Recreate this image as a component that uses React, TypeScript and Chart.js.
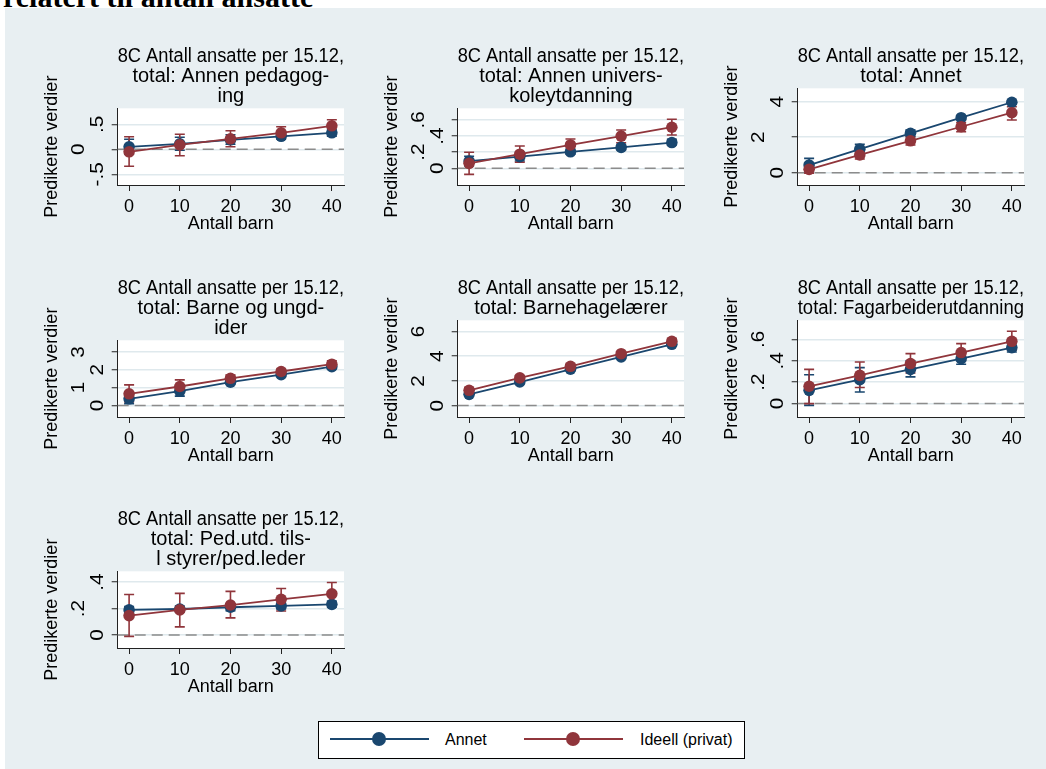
import React, { useEffect, useRef } from 'react';
import { Chart, registerables } from 'chart.js';

Chart.register(...registerables);
Chart.defaults.font.family = '"Liberation Sans", Arial, sans-serif';
Chart.defaults.color = '#000';

// ---------- data ----------
const xValues = [0, 10, 20, 30, 40];
const seriesNames = ['Annet', 'Ideell (privat)'];
const seriesColors = ['#1a476f', '#90353b'];
const xAxisTitle = 'Antall barn';
const yAxisTitle = 'Predikerte verdier';
const pageHeading = 'relatert til antall ansatte';

const titleLine1 = '8C Antall ansatte per 15.12,';
const p1Title = [titleLine1, 'total: Annen pedagog-', 'ing'];
const p2Title = [titleLine1, 'total: Annen univers-', 'koleytdanning'];
const p3Title = [titleLine1, 'total: Annet'];
const p4Title = [titleLine1, 'total: Barne og ungd-', 'ider'];
const p5Title = [titleLine1, 'total: Barnehagelærer'];
const p6Title = [titleLine1, 'total: Fagarbeiderutdanning'];
const p7Title = [titleLine1, 'total: Ped.utd. tils-', 'l styrer/ped.leder'];

// Panel 1: Annen pedagoging
const p1Annet = [0.05, 0.11, 0.19, 0.26, 0.33];
const p1AnnetLo = [-0.1, -0.02, 0.1, 0.2, 0.26];
const p1AnnetHi = [0.2, 0.24, 0.29, 0.32, 0.4];
const p1Ideell = [-0.05, 0.09, 0.21, 0.33, 0.47];
const p1IdeellLo = [-0.34, -0.13, 0.05, 0.22, 0.35];
const p1IdeellHi = [0.25, 0.3, 0.37, 0.45, 0.59];
const p1YTicks = [-0.5, 0, 0.5];
const p1YLabels = ['-.5', '0', '.5'];
const p1YRange = [-0.714, 0.82];

// Panel 2: Annen universkoleytdanning
const p2Annet = [0.09, 0.145, 0.205, 0.26, 0.32];
const p2AnnetLo = [0.03, 0.09, 0.175, 0.23, 0.29];
const p2AnnetHi = [0.15, 0.2, 0.24, 0.29, 0.36];
const p2Ideell = [0.062, 0.175, 0.29, 0.4, 0.51];
const p2IdeellLo = [-0.075, 0.075, 0.206, 0.318, 0.414];
const p2IdeellHi = [0.2, 0.277, 0.364, 0.476, 0.61];
const p2YTicks = [0, 0.2, 0.4, 0.6];
const p2YLabels = ['0', '.2', '.4', '.6'];
const p2YRange = [-0.207, 0.745];

// Panel 3: Annet
const p3Annet = [0.43, 1.33, 2.22, 3.1, 3.97];
const p3AnnetLo = [0.06, 1.09, 2.03, 2.98, 3.86];
const p3AnnetHi = [0.81, 1.6, 2.4, 3.22, 4.08];
const p3Ideell = [0.19, 1.0, 1.8, 2.59, 3.38];
const p3IdeellLo = [-0.03, 0.77, 1.56, 2.31, 2.97];
const p3IdeellHi = [0.38, 1.18, 2.03, 2.82, 3.72];
const p3YTicks = [0, 2, 4];
const p3YLabels = ['0', '2', '4'];
const p3YRange = [-0.69, 4.755];

// Panel 4: Barne og ungdider
const p4Annet = [0.37, 0.8, 1.3, 1.72, 2.17];
const p4AnnetLo = [0.09, 0.52, 1.18, 1.62, 2.06];
const p4AnnetHi = [0.61, 1.06, 1.42, 1.82, 2.28];
const p4Ideell = [0.65, 1.06, 1.52, 1.9, 2.31];
const p4IdeellLo = [0.19, 0.8, 1.3, 1.72, 2.09];
const p4IdeellHi = [1.15, 1.43, 1.7, 2.04, 2.5];
const p4YTicks = [0, 1, 2, 3];
const p4YLabels = ['0', '1', '2', '3'];
const p4YRange = [-0.65, 3.65];

// Panel 5: Barnehagelærer
const p5Annet = [0.91, 1.91, 2.94, 3.94, 4.96];
const p5AnnetLo = [0.75, 1.78, 2.82, 3.83, 4.82];
const p5AnnetHi = [1.07, 2.04, 3.06, 4.05, 5.1];
const p5Ideell = [1.24, 2.24, 3.18, 4.2, 5.2];
const p5IdeellLo = [1.02, 2.05, 3.02, 4.04, 4.98];
const p5IdeellHi = [1.46, 2.43, 3.34, 4.36, 5.42];
const p5YTicks = [0, 2, 4, 6];
const p5YLabels = ['0', '2', '4', '6'];
const p5YRange = [-0.92, 6.9];

// Panel 6: Fagarbeiderutdanning
const p6Annet = [0.124, 0.224, 0.32, 0.42, 0.523];
const p6AnnetLo = [-0.016, 0.108, 0.25, 0.367, 0.482];
const p6AnnetHi = [0.27, 0.336, 0.4, 0.47, 0.56];
const p6Ideell = [0.162, 0.264, 0.374, 0.477, 0.582];
const p6IdeellLo = [0.0, 0.15, 0.286, 0.4, 0.498];
const p6IdeellHi = [0.32, 0.389, 0.467, 0.56, 0.676];
const p6YTicks = [0, 0.2, 0.4, 0.6];
const p6YLabels = ['0', '.2', '.4', '.6'];
const p6YRange = [-0.125, 0.778];

// Panel 7: Ped.utd. tilsl styrer/ped.leder
const p7Annet = [0.19, 0.197, 0.21, 0.22, 0.232];
const p7AnnetLo = [0.165, 0.175, 0.185, 0.198, 0.21];
const p7AnnetHi = [0.215, 0.22, 0.235, 0.242, 0.255];
const p7Ideell = [0.147, 0.19, 0.227, 0.27, 0.312];
const p7IdeellLo = [-0.01, 0.062, 0.13, 0.182, 0.232];
const p7IdeellHi = [0.307, 0.315, 0.33, 0.352, 0.397];
const p7YTicks = [0, 0.2, 0.4];
const p7YLabels = ['0', '.2', '.4'];
const p7YRange = [-0.098, 0.482];

const panels = [
  { title: p1Title, a: p1Annet, aLo: p1AnnetLo, aHi: p1AnnetHi, b: p1Ideell, bLo: p1IdeellLo, bHi: p1IdeellHi, yTicks: p1YTicks, yLabels: p1YLabels, yRange: p1YRange },
  { title: p2Title, a: p2Annet, aLo: p2AnnetLo, aHi: p2AnnetHi, b: p2Ideell, bLo: p2IdeellLo, bHi: p2IdeellHi, yTicks: p2YTicks, yLabels: p2YLabels, yRange: p2YRange },
  { title: p3Title, a: p3Annet, aLo: p3AnnetLo, aHi: p3AnnetHi, b: p3Ideell, bLo: p3IdeellLo, bHi: p3IdeellHi, yTicks: p3YTicks, yLabels: p3YLabels, yRange: p3YRange },
  { title: p4Title, a: p4Annet, aLo: p4AnnetLo, aHi: p4AnnetHi, b: p4Ideell, bLo: p4IdeellLo, bHi: p4IdeellHi, yTicks: p4YTicks, yLabels: p4YLabels, yRange: p4YRange },
  { title: p5Title, a: p5Annet, aLo: p5AnnetLo, aHi: p5AnnetHi, b: p5Ideell, bLo: p5IdeellLo, bHi: p5IdeellHi, yTicks: p5YTicks, yLabels: p5YLabels, yRange: p5YRange },
  { title: p6Title, a: p6Annet, aLo: p6AnnetLo, aHi: p6AnnetHi, b: p6Ideell, bLo: p6IdeellLo, bHi: p6IdeellHi, yTicks: p6YTicks, yLabels: p6YLabels, yRange: p6YRange },
  { title: p7Title, a: p7Annet, aLo: p7AnnetLo, aHi: p7AnnetHi, b: p7Ideell, bLo: p7IdeellLo, bHi: p7IdeellHi, yTicks: p7YTicks, yLabels: p7YLabels, yRange: p7YRange },
];

// ---------- layout constants ----------
const BG = '#e8eff2';
const GRID = '#dfe9ed';
const CANVAS_W = 340;
const CANVAS_H = 232;
const colLefts = [30, 370, 710];
const rowTops = [40, 272, 503];
const Y_LABEL_INNER = 15;
const Y_LABEL_OUTER = 33.5;

const decorPlugin = {
  id: 'decor',
  beforeDraw(chart: any) {
    const { ctx, chartArea: a } = chart;
    ctx.save();
    ctx.fillStyle = '#fff';
    ctx.fillRect(a.left, a.top, a.right - a.left, a.bottom - a.top);
    ctx.restore();
  },
  beforeDatasetsDraw(chart: any) {
    const { ctx, chartArea: a, scales } = chart;
    const xs = scales.x;
    const ys = scales.y;
    const y0 = ys.getPixelForValue(0);
    ctx.save();
    ctx.strokeStyle = '#8c8c8c';
    ctx.lineWidth = 1.5;
    ctx.setLineDash([11, 6]);
    ctx.beginPath();
    ctx.moveTo(a.left, y0);
    ctx.lineTo(a.right, y0);
    ctx.stroke();
    ctx.setLineDash([]);
    chart.data.datasets.forEach((ds: any) => {
      ctx.strokeStyle = ds.borderColor;
      ctx.lineWidth = 1.6;
      ds.data.forEach((pt: any, i: number) => {
        const px = xs.getPixelForValue(pt.x);
        const lo = ys.getPixelForValue(ds.errLow[i]);
        const hi = ys.getPixelForValue(ds.errHigh[i]);
        ctx.beginPath();
        ctx.moveTo(px, lo);
        ctx.lineTo(px, hi);
        ctx.moveTo(px - 5, lo);
        ctx.lineTo(px + 5, lo);
        ctx.moveTo(px - 5, hi);
        ctx.lineTo(px + 5, hi);
        ctx.stroke();
      });
    });
    ctx.restore();
  },
  afterDraw(chart: any) {
    const opts = chart.options.plugins.decor;
    const { ctx } = chart;
    const ys = chart.scales.y;
    ctx.save();
    ctx.font = '18px "Liberation Sans", Arial, sans-serif';
    ctx.fillStyle = '#000';
    ctx.textAlign = 'center';
    ctx.textBaseline = 'alphabetic';
    opts.ticks.forEach((v: number, i: number) => {
      const py = ys.getPixelForValue(v);
      const off = i % 2 === 0 ? Y_LABEL_INNER : Y_LABEL_OUTER;
      ctx.save();
      ctx.translate(ys.right - off, py);
      ctx.rotate(-Math.PI / 2);
      ctx.scale(1.15, 1);
      ctx.fillText(opts.labels[i], 0, 0);
      ctx.restore();
    });
    ctx.restore();
  },
};

function Panel({ p, left, top }: { p: any; left: number; top: number }) {
  const ref = useRef<HTMLCanvasElement>(null);
  useEffect(() => {
    if (!ref.current) return;
    const mk = (vals: number[], lo: number[], hi: number[], k: number) => ({
      label: seriesNames[k],
      data: xValues.map((x, i) => ({ x, y: vals[i] })),
      errLow: lo,
      errHigh: hi,
      borderColor: seriesColors[k],
      backgroundColor: seriesColors[k],
      pointBackgroundColor: seriesColors[k],
      pointBorderColor: seriesColors[k],
      pointRadius: 5.8,
      pointBorderWidth: 0,
      borderWidth: 1.8,
      order: k === 0 ? 1 : 0,
    });
    const chart = new Chart(ref.current, {
      type: 'line',
      data: {
        datasets: [mk(p.a, p.aLo, p.aHi, 0), mk(p.b, p.bLo, p.bHi, 1)] as any,
      },
      options: {
        animation: false,
        responsive: false,
        events: [],
        layout: { padding: { left: 0, right: 26, top: 0, bottom: 0 } },
        plugins: {
          legend: { display: false },
          tooltip: { enabled: false },
          title: {
            display: true,
            text: p.title,
            fullSize: false,
            color: '#000',
            font: { size: 20, weight: 'normal', lineHeight: 1.0 },
            padding: { top: 6.5, bottom: 1.8 },
          },
          decor: { ticks: p.yTicks, labels: p.yLabels },
        } as any,
        scales: {
          x: {
            type: 'linear',
            min: -2.25,
            max: 42.4,
            afterBuildTicks: (s: any) => {
              s.ticks = xValues.map((v) => ({ value: v }));
            },
            afterFit: (s: any) => {
              s.height = 87;
            },
            grid: { display: true, drawOnChartArea: false, drawTicks: true, tickLength: 6, tickColor: '#222', tickWidth: 1 },
            border: { display: true, color: '#222', width: 1 },
            ticks: { color: '#000', font: { size: 18 }, padding: 5, maxRotation: 0, autoSkip: false },
            title: { display: true, text: xAxisTitle, color: '#000', font: { size: 18 }, padding: { top: 0, bottom: 37 } },
          },
          y: {
            type: 'linear',
            min: p.yRange[0],
            max: p.yRange[1],
            afterBuildTicks: (s: any) => {
              s.ticks = p.yTicks.map((v: number) => ({ value: v }));
            },
            afterFit: (s: any) => {
              s.width = 87.7;
            },
            grid: { color: GRID, lineWidth: 1.5, drawTicks: true, tickLength: 6, tickColor: '#222', tickWidth: 1 },
            border: { display: true, color: '#222', width: 1 },
            ticks: { display: false },
            title: { display: true, text: yAxisTitle, color: '#000', font: { size: 18 }, padding: { top: 11, bottom: 0 } },
          },
        } as any,
      },
      plugins: [decorPlugin],
    } as any);
    return () => chart.destroy();
  }, [p]);
  return (
    <canvas
      ref={ref}
      width={CANVAS_W}
      height={CANVAS_H}
      style={{ position: 'absolute', left, top, width: CANVAS_W, height: CANVAS_H }}
    />
  );
}

function LegendItem({ color, lineLeft, markerLeft, textLeft, text }: any) {
  return (
    <>
      <div style={{ position: 'absolute', left: lineLeft, top: 16.3, width: 99, height: 2, background: color }} />
      <div
        style={{
          position: 'absolute',
          left: markerLeft,
          top: 10.3,
          width: 14,
          height: 14,
          borderRadius: '50%',
          background: color,
        }}
      />
      <div
        style={{
          position: 'absolute',
          left: textLeft,
          top: 9.5,
          fontSize: 16,
          lineHeight: '16px',
          fontFamily: '"Liberation Sans", Arial, sans-serif',
          color: '#000',
          whiteSpace: 'nowrap',
        }}
      >
        {text}
      </div>
    </>
  );
}

export default function App() {
  return (
    <div style={{ position: 'fixed', left: 0, top: 0, width: 1046, height: 769, overflow: 'hidden', background: '#fff' }}>
      <div style={{ position: 'absolute', left: 5, top: 8, right: 0, bottom: 0, background: BG }} />
      <div
        style={{
          position: 'absolute',
          left: 3,
          top: -18,
          fontFamily: '"Liberation Serif", "Times New Roman", serif',
          fontWeight: 'bold',
          fontSize: 30,
          lineHeight: '30px',
          color: '#000',
          whiteSpace: 'nowrap',
        }}
      >
        {pageHeading}
      </div>
      {panels.map((p, i) => (
        <Panel key={i} p={p} left={colLefts[i % 3]} top={rowTops[Math.floor(i / 3)]} />
      ))}
      <div
        style={{
          position: 'absolute',
          left: 318,
          top: 721,
          width: 427,
          height: 38,
          boxSizing: 'border-box',
          border: '1px solid #000',
          background: '#fff',
        }}
      >
        <LegendItem color={seriesColors[0]} lineLeft={11} markerLeft={53} textLeft={126} text={seriesNames[0]} />
        <LegendItem color={seriesColors[1]} lineLeft={205.3} markerLeft={247.3} textLeft={321} text={seriesNames[1]} />
      </div>
    </div>
  );
}
